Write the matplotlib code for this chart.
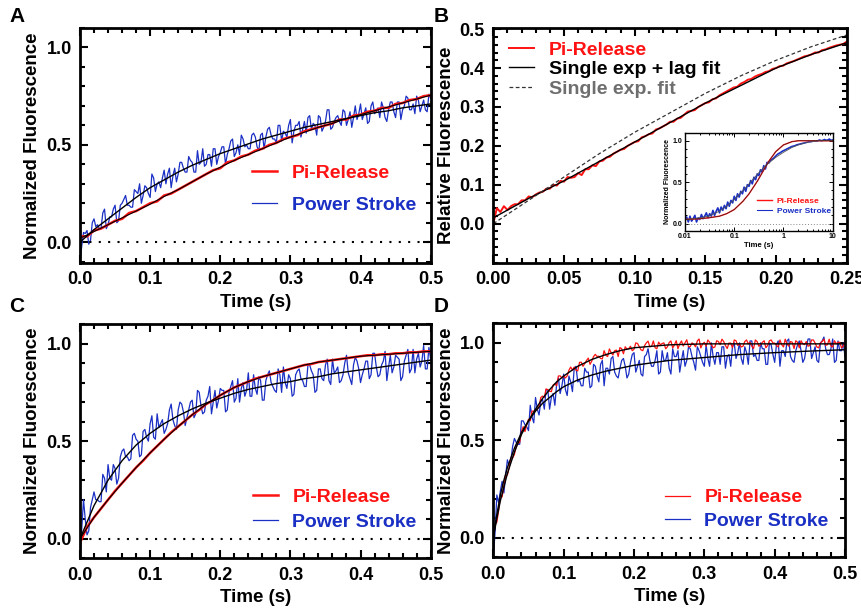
import numpy as np
import matplotlib
matplotlib.use("Agg")
import matplotlib.pyplot as plt
from matplotlib.ticker import MultipleLocator, FormatStrFormatter, FuncFormatter, LogLocator, NullFormatter

plt.rcParams['font.family'] = ['Liberation Sans', 'DejaVu Sans']
plt.rcParams['font.weight'] = 'bold'
plt.rcParams['axes.labelweight'] = 'bold'

RED = '#ff1212'
BLUE = '#1a2fc4'

# ---------------- data ----------------
# A: power stroke every 2.5 ms, Pi release every 10 ms, fits every 20 ms
a_blue = [-0.10, -0.02, 0.05, 0.045, 0.06, -0.01, 0.01, 0.10, 0.12, 0.08,
          0.09, 0.07, 0.07, 0.15, 0.17, 0.07, 0.09, 0.13, 0.13, 0.17,
          0.19, 0.10, 0.11, 0.19, 0.20, 0.22, 0.24, 0.19, 0.19, 0.18,
          0.18, 0.27, 0.26, 0.25, 0.30, 0.20, 0.24, 0.29, 0.28, 0.25,
          0.23, 0.35, 0.33, 0.26, 0.30, 0.31, 0.28, 0.33, 0.37, 0.30,
          0.35, 0.38, 0.28, 0.34, 0.38, 0.31, 0.35, 0.41, 0.41, 0.38,
          0.36, 0.36, 0.44, 0.42, 0.41, 0.36, 0.36, 0.47, 0.40, 0.41,
          0.48, 0.39, 0.40, 0.45, 0.45, 0.39, 0.48, 0.48, 0.40, 0.44,
          0.46, 0.49, 0.49, 0.40, 0.45, 0.48, 0.52, 0.53, 0.44, 0.46,
          0.50, 0.45, 0.55, 0.53, 0.49, 0.50, 0.48, 0.48, 0.55, 0.56,
          0.54, 0.49, 0.47, 0.55, 0.56, 0.48, 0.54, 0.58, 0.59, 0.55,
          0.53, 0.53, 0.51, 0.60, 0.60, 0.52, 0.57, 0.56, 0.54, 0.60,
          0.63, 0.51, 0.57, 0.60, 0.60, 0.62, 0.54, 0.58, 0.62, 0.56,
          0.64, 0.65, 0.58, 0.61, 0.60, 0.55, 0.65, 0.64, 0.57, 0.59,
          0.62, 0.68, 0.68, 0.58, 0.59, 0.62, 0.64, 0.65, 0.62, 0.60,
          0.68, 0.67, 0.60, 0.63, 0.67, 0.59, 0.64, 0.70, 0.63, 0.66,
          0.71, 0.63, 0.66, 0.69, 0.61, 0.62, 0.70, 0.72, 0.66, 0.67,
          0.69, 0.64, 0.72, 0.69, 0.64, 0.62, 0.68, 0.72, 0.72, 0.67,
          0.64, 0.72, 0.72, 0.63, 0.68, 0.70, 0.75, 0.74, 0.68, 0.68,
          0.71, 0.66, 0.75, 0.73, 0.67, 0.70, 0.73, 0.68, 0.67, 0.76,
          0.74]
a_red = [0.03, 0.03, 0.06, 0.07, 0.09, 0.11, 0.12, 0.15, 0.16, 0.18,
         0.20, 0.21, 0.24, 0.25, 0.27, 0.29, 0.31, 0.33, 0.35, 0.37,
         0.38, 0.41, 0.42, 0.44, 0.45, 0.47, 0.48, 0.50, 0.51, 0.53,
         0.54, 0.55, 0.57, 0.58, 0.59, 0.60, 0.61, 0.63, 0.63, 0.65,
         0.655, 0.67, 0.675, 0.69, 0.69, 0.71, 0.715, 0.73, 0.735, 0.75,
         0.755]
a_blue_fit = [0.0, 0.065, 0.12, 0.175, 0.23, 0.28, 0.32, 0.36, 0.395, 0.425, 0.455, 0.48, 0.505,
              0.53, 0.55, 0.57, 0.59, 0.605, 0.62, 0.635, 0.65, 0.665, 0.675, 0.69, 0.70, 0.71]
a_red_fit = [0.02, 0.055, 0.09, 0.125, 0.16, 0.195, 0.235, 0.27, 0.31, 0.35, 0.385, 0.42, 0.45,
             0.48, 0.51, 0.54, 0.565, 0.59, 0.61, 0.635, 0.655, 0.675, 0.695, 0.715, 0.735, 0.755]

# B: Pi release every 2.5 ms, fits every 25 ms
b_red = [0.00, 0.04, 0.03, 0.045, 0.035, 0.045, 0.05, 0.05, 0.06, 0.06,
         0.07, 0.068, 0.075, 0.08, 0.082, 0.09, 0.09, 0.10, 0.098, 0.11,
         0.108, 0.12, 0.118, 0.12, 0.13, 0.125, 0.14, 0.14, 0.15, 0.148,
         0.16, 0.162, 0.17, 0.172, 0.18, 0.185, 0.19, 0.192, 0.20, 0.205,
         0.21, 0.212, 0.222, 0.225, 0.23, 0.232, 0.242, 0.245, 0.25, 0.255,
         0.262, 0.262, 0.27, 0.272, 0.28, 0.288, 0.29, 0.292, 0.30, 0.305,
         0.31, 0.312, 0.32, 0.322, 0.33, 0.335, 0.34, 0.345, 0.35, 0.352,
         0.36, 0.364, 0.37, 0.372, 0.378, 0.382, 0.385, 0.39, 0.392, 0.398,
         0.40, 0.405, 0.406, 0.412, 0.415, 0.418, 0.422, 0.426, 0.43, 0.432,
         0.435, 0.44, 0.44, 0.446, 0.448, 0.452, 0.455, 0.458, 0.46, 0.462,
         0.468]
b_lag_fit = [0.015, 0.065, 0.11, 0.16, 0.21, 0.26, 0.31, 0.355, 0.40, 0.435, 0.465]
b_exp_fit = [0.0, 0.06, 0.12, 0.18, 0.235, 0.285, 0.335, 0.38, 0.42, 0.455, 0.485]

# B inset: log-spaced samples (30 per decade, 0.01-10 s), fits at listed times
ins_blue = [0.04, 0.08, 0.02, 0.09, 0.03, 0.06, 0.10, 0.02, 0.07, 0.05,
            0.11, 0.06, 0.09, 0.13, 0.07, 0.12, 0.09, 0.16, 0.10, 0.15,
            0.19, 0.13, 0.20, 0.16, 0.22, 0.18, 0.26, 0.21, 0.28, 0.25,
            0.33, 0.28, 0.36, 0.32, 0.39, 0.36, 0.44, 0.39, 0.47, 0.45,
            0.52, 0.48, 0.56, 0.53, 0.60, 0.58, 0.65, 0.62, 0.70, 0.66,
            0.74, 0.73, 0.76, 0.775, 0.79, 0.81, 0.83, 0.845, 0.855, 0.87,
            0.88, 0.89, 0.90, 0.91, 0.92, 0.93, 0.935, 0.94, 0.95, 0.955,
            0.96, 0.965, 0.97, 0.975, 0.98, 0.985, 0.99, 0.99, 0.995, 1.00,
            0.995, 1.00, 1.01, 1.00, 1.005, 1.015, 1.005, 1.01, 1.02, 1.005,
            1.01]
ins_fit_t = [0.01, 0.02, 0.03, 0.05, 0.07, 0.1, 0.15, 0.2, 0.3, 0.4, 0.5, 0.7, 1, 1.5, 2, 3, 5, 10]
ins_red = [0.05, 0.06, 0.07, 0.09, 0.12, 0.17, 0.27, 0.36, 0.52, 0.65, 0.75, 0.87, 0.95, 0.99, 1.0, 1.0, 1.0, 1.0]
ins_blue_fit = [0.05, 0.07, 0.09, 0.15, 0.21, 0.29, 0.40, 0.48, 0.60, 0.68, 0.73, 0.80, 0.86, 0.92, 0.95, 0.98, 1.0, 1.0]

# C
c_blue = [-0.10, 0.05, 0.20, 0.10, 0.02, 0.04, 0.16, 0.20, 0.24, 0.20,
          0.20, 0.19, 0.19, 0.33, 0.31, 0.24, 0.38, 0.31, 0.30, 0.38,
          0.36, 0.28, 0.31, 0.42, 0.45, 0.46, 0.42, 0.42, 0.40, 0.41,
          0.53, 0.54, 0.51, 0.50, 0.42, 0.43, 0.55, 0.56, 0.52, 0.50,
          0.59, 0.63, 0.52, 0.51, 0.64, 0.57, 0.59, 0.61, 0.54, 0.56,
          0.59, 0.66, 0.69, 0.61, 0.58, 0.56, 0.66, 0.70, 0.69, 0.65,
          0.58, 0.62, 0.66, 0.70, 0.71, 0.62, 0.64, 0.76, 0.75, 0.68,
          0.64, 0.65, 0.71, 0.73, 0.78, 0.64, 0.70, 0.76, 0.67, 0.71,
          0.77, 0.76, 0.76, 0.65, 0.66, 0.75, 0.78, 0.81, 0.70, 0.72,
          0.82, 0.70, 0.77, 0.80, 0.73, 0.76, 0.85, 0.73, 0.73, 0.84,
          0.77, 0.74, 0.83, 0.81, 0.71, 0.71, 0.81, 0.84, 0.86, 0.80,
          0.78, 0.76, 0.75, 0.87, 0.84, 0.75, 0.88, 0.80, 0.77, 0.84,
          0.82, 0.73, 0.74, 0.84, 0.86, 0.87, 0.82, 0.81, 0.78, 0.78,
          0.89, 0.89, 0.86, 0.84, 0.75, 0.76, 0.87, 0.87, 0.82, 0.81,
          0.89, 0.92, 0.81, 0.79, 0.92, 0.85, 0.86, 0.88, 0.80, 0.81,
          0.84, 0.90, 0.94, 0.85, 0.82, 0.79, 0.89, 0.93, 0.91, 0.87,
          0.80, 0.84, 0.87, 0.91, 0.91, 0.82, 0.84, 0.95, 0.95, 0.88,
          0.83, 0.84, 0.89, 0.91, 0.96, 0.81, 0.88, 0.94, 0.85, 0.88,
          0.94, 0.93, 0.92, 0.81, 0.83, 0.91, 0.94, 0.97, 0.85, 0.87,
          0.97, 0.85, 0.92, 0.95, 0.88, 0.91, 0.99, 0.87, 0.87, 0.98,
          0.92]
c_red = [-0.02, 0.06, 0.11, 0.155, 0.20, 0.245, 0.285, 0.325, 0.365, 0.40,
         0.44, 0.475, 0.51, 0.545, 0.575, 0.605, 0.635, 0.66, 0.69, 0.71,
         0.735, 0.755, 0.775, 0.79, 0.805, 0.82, 0.83, 0.84, 0.85, 0.86,
         0.87, 0.88, 0.89, 0.895, 0.905, 0.91, 0.915, 0.92, 0.925, 0.93,
         0.935, 0.94, 0.94, 0.945, 0.945, 0.95, 0.95, 0.955, 0.955, 0.96,
         0.96]
c_blue_fit = [0.0, 0.17, 0.30, 0.40, 0.48, 0.54, 0.59, 0.63, 0.665, 0.695, 0.72, 0.745, 0.765,
              0.78, 0.795, 0.805, 0.82, 0.83, 0.845, 0.855, 0.865, 0.875, 0.885, 0.895, 0.905, 0.915]
c_red_fit = [0.0, 0.11, 0.20, 0.285, 0.365, 0.44, 0.51, 0.575, 0.635, 0.69, 0.735, 0.775, 0.805,
             0.83, 0.85, 0.87, 0.89, 0.905, 0.915, 0.925, 0.935, 0.94, 0.945, 0.95, 0.955, 0.96]

# D: both traces every 2.5 ms
d_red = [0.0, 0.07, 0.08, 0.14, 0.21, 0.21, 0.264, 0.32, 0.322, 0.36,
         0.409, 0.41, 0.428, 0.47, 0.485, 0.49, 0.546, 0.57, 0.545, 0.58,
         0.608, 0.60, 0.65, 0.65, 0.656, 0.66, 0.674, 0.72, 0.727, 0.72,
         0.764, 0.76, 0.752, 0.75, 0.784, 0.79, 0.78, 0.83, 0.831, 0.82,
         0.83, 0.82, 0.831, 0.86, 0.876, 0.86, 0.876, 0.86, 0.856, 0.90,
         0.901, 0.88, 0.894, 0.91, 0.922, 0.89, 0.907, 0.93, 0.941, 0.93,
         0.932, 0.92, 0.918, 0.96, 0.936, 0.93, 0.969, 0.95, 0.938, 0.96,
         0.963, 0.93, 0.976, 0.97, 0.944, 0.98, 0.968, 0.97, 0.983, 0.96,
         0.967, 1.00, 0.997, 0.98, 0.964, 0.96, 0.986, 1.00, 1.009, 0.98,
         0.982, 1.01, 0.975, 0.97, 1.004, 0.99, 0.997, 1.00, 0.97, 0.98,
         1.002, 1.01, 0.974, 0.99, 1.011, 0.97, 0.995, 1.01, 0.984, 1.00,
         1.016, 0.98, 0.981, 1.00, 0.993, 0.98, 1.01, 1.02, 0.974, 0.995,
         1.003, 0.983, 1.015, 1.003, 0.991, 0.975, 0.979, 1.011, 1.007, 0.991,
         1.019, 1.007, 0.987, 0.971, 0.999, 0.999, 0.975, 1.015, 1.011, 0.987,
         0.995, 0.979, 0.983, 1.007, 1.015, 0.995, 1.003, 0.983, 0.971, 1.015,
         1.007, 0.983, 0.991, 1.003, 1.011, 0.975, 0.987, 1.011, 1.015, 0.999,
         0.999, 0.987, 0.979, 1.015, 0.991, 0.979, 1.019, 0.995, 0.983, 1.007,
         1.003, 0.971, 1.011, 1.003, 0.975, 1.011, 0.995, 0.991, 1.007, 0.983,
         0.987, 1.015, 1.015, 0.999, 0.979, 0.975, 0.999, 1.007, 1.019, 0.987,
         0.991, 1.019, 0.983, 0.979, 1.011, 0.995, 1.003, 1.003, 0.975, 0.983,
         1.007]
d_blue = [-0.10, 0.03, 0.22, 0.18, 0.24, 0.29, 0.23, 0.32, 0.40, 0.37,
          0.40, 0.47, 0.51, 0.49, 0.48, 0.48, 0.60, 0.60, 0.58, 0.57,
          0.55, 0.68, 0.62, 0.59, 0.72, 0.66, 0.63, 0.70, 0.71, 0.66,
          0.76, 0.76, 0.66, 0.72, 0.74, 0.68, 0.79, 0.82, 0.74, 0.78,
          0.84, 0.76, 0.73, 0.83, 0.80, 0.75, 0.87, 0.88, 0.80, 0.81,
          0.78, 0.78, 0.87, 0.85, 0.85, 0.77, 0.78, 0.89, 0.88, 0.83,
          0.80, 0.89, 0.91, 0.78, 0.87, 0.87, 0.84, 0.92, 0.93, 0.85,
          0.83, 0.82, 0.87, 0.91, 0.92, 0.88, 0.82, 0.84, 0.90, 0.94,
          0.95, 0.85, 0.88, 0.91, 0.84, 0.83, 0.93, 0.94, 0.97, 0.91,
          0.88, 0.88, 0.91, 0.96, 0.84, 0.85, 0.96, 0.91, 0.91, 0.95,
          0.87, 0.84, 0.97, 0.93, 0.93, 0.96, 0.85, 0.91, 0.96, 0.88,
          0.91, 0.98, 0.97, 0.93, 0.90, 0.86, 0.98, 0.96, 0.93, 0.90,
          0.88, 0.99, 0.92, 0.88, 1.00, 0.93, 0.89, 0.95, 0.95, 0.89,
          0.98, 0.98, 0.87, 0.93, 0.94, 0.88, 0.98, 1.00, 0.92, 0.95,
          1.00, 0.92, 0.89, 0.98, 0.95, 0.89, 1.01, 1.01, 0.93, 0.94,
          0.91, 0.91, 1.00, 0.97, 0.97, 0.89, 0.89, 1.00, 0.99, 0.94,
          0.90, 0.99, 1.01, 0.88, 0.96, 0.96, 0.93, 1.01, 1.02, 0.93,
          0.91, 0.90, 0.96, 0.99, 1.01, 0.96, 0.90, 0.92, 0.98, 1.02,
          1.02, 0.92, 0.95, 0.98, 0.91, 0.90, 1.00, 1.01, 1.03, 0.97,
          0.94, 0.94, 0.97, 1.02, 0.90, 0.91, 1.01, 0.96, 0.96, 1.00,
          0.93]
d_fit_t = [0, 0.005, 0.01, 0.015, 0.02, 0.03, 0.04, 0.05, 0.06, 0.07, 0.08, 0.09, 0.10,
           0.12, 0.14, 0.16, 0.18, 0.20, 0.25, 0.30, 0.35, 0.40, 0.45, 0.50]
d_red_fit = [0, 0.10, 0.19, 0.26, 0.33, 0.44, 0.53, 0.60, 0.66, 0.715, 0.76, 0.80, 0.83,
             0.88, 0.915, 0.94, 0.96, 0.975, 0.99, 0.995, 0.995, 0.995, 0.995, 0.995]
d_blue_fit = [0, 0.12, 0.22, 0.295, 0.36, 0.46, 0.54, 0.60, 0.65, 0.69, 0.72, 0.75, 0.775,
              0.81, 0.835, 0.855, 0.87, 0.885, 0.91, 0.925, 0.94, 0.95, 0.958, 0.965]

t_fast = np.linspace(0, 0.5, len(a_blue))
t_slow = np.linspace(0, 0.5, len(a_red))
t_fit = np.linspace(0, 0.5, len(a_blue_fit))
t_b = np.linspace(0, 0.25, len(b_red))
t_bfit = np.linspace(0, 0.25, len(b_lag_fit))
t_ins = np.logspace(-2, 1, len(ins_blue))

# ---------------- figure ----------------
fig = plt.figure(figsize=(8.62, 6.14), dpi=100)
axA = fig.add_axes([0.0928, 0.5722, 0.4068, 0.3822])
axB = fig.add_axes([0.5723, 0.5717, 0.4100, 0.3827])
axC = fig.add_axes([0.0928, 0.0907, 0.4068, 0.3816])
axD = fig.add_axes([0.5723, 0.0923, 0.4080, 0.3810])

LEG_SIZE = 14


def style(ax, xmaj, xmin, ymin, xfmt, yfmt, yticks):
    for s in ax.spines.values():
        s.set_linewidth(2)
    ax.xaxis.set_major_locator(MultipleLocator(xmaj))
    ax.xaxis.set_minor_locator(MultipleLocator(xmin))
    ax.set_yticks(yticks)
    ax.yaxis.set_minor_locator(MultipleLocator(ymin))
    ax.xaxis.set_major_formatter(FormatStrFormatter(xfmt))
    ax.yaxis.set_major_formatter(FormatStrFormatter(yfmt))
    ax.tick_params(which='both', direction='in', top=True, right=True, width=1.5,
                   labelsize=13, pad=6)
    ax.tick_params(which='major', length=6)
    ax.tick_params(which='minor', length=3.5)
    ax.set_xlabel('Time (s)', fontsize=13.5, labelpad=4)


def legend(ax, handles, labels, colors, anchor, spacing):
    leg = ax.legend(handles, labels, loc='upper left', bbox_to_anchor=anchor, frameon=False,
                    borderpad=0, borderaxespad=0, handlelength=1.3, handletextpad=0.75,
                    labelspacing=spacing, prop={'weight': 'bold', 'size': LEG_SIZE})
    for txt, c in zip(leg.get_texts(), colors):
        txt.set_color(c)
    return leg


norm_ticks = [0.0, 0.5, 1.0]

# A
lb, = axA.plot(t_fast, a_blue, color=BLUE, lw=0.9)
lr, = axA.plot(t_slow, a_red, color=RED, lw=1.8)
axA.plot(t_fit, a_blue_fit, color='black', lw=1.0)
axA.plot(t_fit, a_red_fit, color='black', lw=0.8)
axA.axhline(0, color='black', lw=1.5, ls=(0, (1, 3.5)))
axA.set_xlim(0, 0.5)
axA.set_ylim(-0.105, 1.1)
style(axA, 0.1, 0.02, 0.1, '%.1f', '%.1f', norm_ticks)
axA.set_ylabel('Normalized Fluorescence', fontsize=13.5, labelpad=3.5)
legend(axA, [lr, lb], ['Pi-Release', 'Power Stroke'], [RED, BLUE], (0.49, 0.42), 0.76)

# B
lrb, = axB.plot(t_b, b_red, color=RED, lw=1.4)
lfit, = axB.plot(t_bfit, b_lag_fit, color='black', lw=1.0)
lexp, = axB.plot(t_bfit, b_exp_fit, color='#333333', lw=0.9, ls=(0, (3, 2)))
axB.set_xlim(0, 0.25)
axB.set_ylim(-0.101, 0.503)
style(axB, 0.05, 0.01, 0.02, '%.2f', '%.1f', [0.0, 0.1, 0.2, 0.3, 0.4, 0.5])
axB.set_ylabel('Relative Fluorescence', fontsize=13.5, labelpad=3.5)
legend(axB, [lrb, lfit, lexp], ['Pi-Release', 'Single exp + lag fit', 'Single exp. fit'],
       [RED, 'black', '#6e6e6e'], (0.044, 0.945), 0.11)

# B inset
axI = fig.add_axes([0.7947, 0.6243, 0.1713, 0.1586])
axI.plot(t_ins, ins_blue, color=BLUE, lw=1.2)
li_r, = axI.plot(ins_fit_t, ins_red, color=RED, lw=1.0)
axI.plot(ins_fit_t, ins_blue_fit, color='#555555', lw=0.6)
axI.plot(ins_fit_t, ins_red, color='#222222', lw=0.4)
axI.axhline(0, color='#888888', lw=0.7, ls=(0, (1, 2)))
axI.set_xscale('log')
axI.set_xlim(0.01, 10)
axI.set_ylim(-0.085, 1.09)
for s in axI.spines.values():
    s.set_linewidth(1.0)
axI.yaxis.set_major_locator(MultipleLocator(0.5))
axI.yaxis.set_minor_locator(MultipleLocator(0.1))
axI.yaxis.set_major_formatter(FormatStrFormatter('%.1f'))
axI.xaxis.set_major_locator(LogLocator(base=10))
axI.xaxis.set_minor_locator(LogLocator(base=10, subs=np.arange(2, 10)))
axI.xaxis.set_minor_formatter(NullFormatter())
axI.xaxis.set_major_formatter(FuncFormatter(lambda v, _: f'{v:g}'))
axI.tick_params(which='both', direction='in', top=True, right=True, width=0.7, labelsize=5, pad=2)
axI.tick_params(which='major', length=3)
axI.tick_params(which='minor', length=1.6)
axI.set_xlabel('Time (s)', fontsize=5.5, labelpad=1)
axI.set_ylabel('Normalized Fluorescence', fontsize=5, labelpad=1)
li_b = plt.Line2D([], [], color=BLUE, lw=0.8)
leg_i = axI.legend([li_r, li_b], ['Pi-Release', 'Power Stroke'], loc='upper left',
                   bbox_to_anchor=(0.49, 0.34), frameon=False, borderpad=0, borderaxespad=0,
                   handlelength=1.7, handletextpad=0.6, labelspacing=0.25,
                   prop={'weight': 'bold', 'size': 6})
for txt, c in zip(leg_i.get_texts(), [RED, BLUE]):
    txt.set_color(c)

# C
lbc, = axC.plot(t_fast, c_blue, color=BLUE, lw=0.9)
lrc, = axC.plot(t_slow, c_red, color=RED, lw=1.8)
axC.plot(t_fit, c_blue_fit, color='black', lw=1.0)
axC.plot(t_fit, c_red_fit, color='black', lw=0.8)
axC.axhline(0, color='black', lw=1.5, ls=(0, (1, 3.5)))
axC.set_xlim(0, 0.5)
axC.set_ylim(-0.1, 1.1)
style(axC, 0.1, 0.02, 0.1, '%.1f', '%.1f', norm_ticks)
axC.set_ylabel('Normalized Fluorescence', fontsize=13.5, labelpad=3.5)
legend(axC, [lrc, lbc], ['Pi-Release', 'Power Stroke'], [RED, BLUE], (0.492, 0.30), 0.38)

# D
lbd, = axD.plot(t_fast, d_blue, color=BLUE, lw=0.9)
lrd, = axD.plot(t_fast, d_red, color=RED, lw=0.9)
axD.plot(d_fit_t, d_red_fit, color='black', lw=1.0)
axD.plot(d_fit_t, d_blue_fit, color='black', lw=1.0)
axD.axhline(0, color='black', lw=1.5, ls=(0, (1, 3.5)))
axD.set_xlim(0, 0.5)
axD.set_ylim(-0.1, 1.1)
style(axD, 0.1, 0.02, 0.1, '%.1f', '%.1f', norm_ticks)
axD.set_ylabel('Normalized Fluorescence', fontsize=13.5, labelpad=3.5)
legend(axD, [lrd, lbd], ['Pi-Release', 'Power Stroke'], [RED, BLUE], (0.487, 0.293), 0.29)

# panel letters
for lab, (px, py) in zip('ABCD', [(17, 17), (441, 17), (17, 306), (441, 306)]):
    fig.text(px / 862, 1 - py / 614, lab, fontsize=15, fontweight='bold', ha='center', va='center')

fig.savefig('out.png', dpi=100)
